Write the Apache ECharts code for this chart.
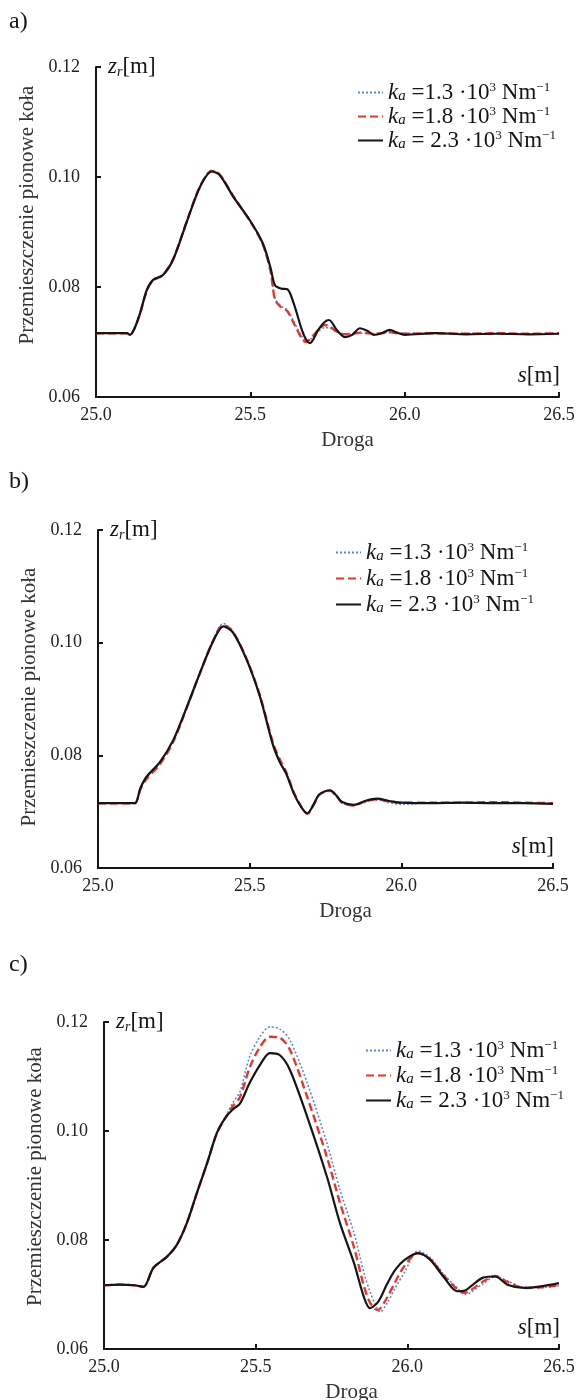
<!DOCTYPE html>
<html><head><meta charset="utf-8">
<script src="https://cdn.jsdelivr.net/npm/echarts@6/dist/echarts.min.js"></script>
<style>html,body{margin:0;padding:0;background:#fff}#c{width:577px;height:1400px}</style>
</head><body><div id="c"></div>
<script>
// ---------- data ----------
const seriesNames = ['kₐ =1.3·10³ Nm⁻¹', 'kₐ =1.8·10³ Nm⁻¹', 'kₐ = 2.3·10³ Nm⁻¹'];
const yTicks = [0.06, 0.08, 0.10, 0.12];
const xTicks = [25.0, 25.5, 26.0, 26.5];

// panel a
const xA = [25.0,25.05,25.1,25.11,25.125,25.143,25.165,25.185,25.217,25.25,25.295,25.337,25.375,25.40,25.445,25.5,25.54,25.565,25.58,25.60,25.62,25.64,25.667,25.68,25.693,25.72,25.74,25.755,25.78,25.807,25.83,25.855,25.88,25.90,25.925,25.952,25.975,26.0,26.1,26.2,26.3,26.4,26.5];
const aBlue = [0.0716,0.0716,0.0716,0.0713,0.0725,0.0753,0.0795,0.0813,0.0822,0.0851,0.0921,0.0983,0.1012,0.1005,0.0965,0.0919,0.0878,0.0832,0.0779,0.0765,0.0758,0.0738,0.0710,0.0702,0.0704,0.0719,0.0726,0.0726,0.0718,0.0714,0.0715,0.0716,0.0716,0.0715,0.0716,0.0717,0.0716,0.0716,0.0716,0.0716,0.0716,0.0715,0.0716];
const aRed = [0.0716,0.0716,0.0716,0.0713,0.0725,0.0752,0.0794,0.0812,0.0822,0.0851,0.0921,0.0983,0.1011,0.1005,0.0965,0.0919,0.0878,0.0830,0.0777,0.0763,0.0756,0.0735,0.0706,0.0700,0.0705,0.0722,0.0731,0.0729,0.0719,0.0714,0.0715,0.0717,0.0716,0.0715,0.0716,0.0718,0.0716,0.0715,0.0716,0.0715,0.0716,0.0715,0.0716];
const aBlack = [0.0716,0.0716,0.0716,0.0713,0.0725,0.0753,0.0795,0.0813,0.0822,0.0850,0.0920,0.0982,0.1010,0.1004,0.0964,0.0920,0.0880,0.0836,0.0803,0.0797,0.0796,0.0771,0.0722,0.0705,0.0698,0.0722,0.0736,0.0740,0.0722,0.0709,0.0713,0.0725,0.0720,0.0713,0.0716,0.0722,0.0717,0.0713,0.0716,0.0714,0.0715,0.0714,0.0715];

// panel b
const xB = [25.0,25.05,25.1,25.122,25.14,25.16,25.204,25.248,25.293,25.336,25.38,25.413,25.445,25.49,25.534,25.577,25.60,25.62,25.645,25.67,25.69,25.71,25.73,25.765,25.785,25.805,25.844,25.88,25.92,25.96,26.0,26.1,26.2,26.3,26.4,26.5];
const bBlue = [0.0715,0.0715,0.0715,0.0715,0.0743,0.0761,0.0787,0.0826,0.0886,0.0947,0.1006,0.1034,0.1020,0.0971,0.0905,0.0820,0.0789,0.0769,0.0734,0.0708,0.0697,0.0711,0.0730,0.0737,0.0728,0.0715,0.0712,0.0717,0.0721,0.0716,0.0713,0.0716,0.0715,0.0716,0.0715,0.0715];
const bRed = [0.0715,0.0715,0.0715,0.0715,0.0740,0.0758,0.0784,0.0824,0.0885,0.0946,0.1004,0.1031,0.1019,0.0971,0.0906,0.0822,0.0792,0.0771,0.0735,0.0709,0.0696,0.0711,0.0730,0.0737,0.0729,0.0716,0.0711,0.0718,0.0722,0.0718,0.0716,0.0716,0.0716,0.0717,0.0716,0.0715];
const bBlack = [0.0715,0.0715,0.0715,0.0715,0.0742,0.0762,0.0788,0.0827,0.0886,0.0946,0.1003,0.1029,0.1018,0.0970,0.0904,0.0818,0.0787,0.0768,0.0733,0.0708,0.0697,0.0712,0.0731,0.0738,0.0729,0.0717,0.0712,0.0719,0.0723,0.0719,0.0716,0.0715,0.0716,0.0715,0.0715,0.0714];

// panel c
const xC = [25.0,25.05,25.1,25.13,25.163,25.207,25.24,25.273,25.306,25.34,25.372,25.40,25.425,25.448,25.48,25.514,25.547,25.58,25.613,25.67,25.735,25.778,25.824,25.857,25.877,25.90,25.91,25.934,25.96,25.99,26.035,26.075,26.12,26.164,26.19,26.207,26.25,26.29,26.33,26.385,26.44,26.5];
const cBlue = [0.0717,0.0718,0.0717,0.0714,0.0749,0.0769,0.0791,0.0831,0.0886,0.0942,0.0997,0.1026,0.1052,0.1072,0.1136,0.1173,0.1191,0.1187,0.1167,0.1088,0.0978,0.0892,0.0813,0.0740,0.0705,0.0675,0.0668,0.0685,0.0712,0.0740,0.0780,0.0768,0.0737,0.0712,0.0700,0.0703,0.0720,0.0733,0.0725,0.0713,0.0713,0.0716];
const cRed = [0.0717,0.0718,0.0717,0.0714,0.0749,0.0769,0.0791,0.0831,0.0886,0.0941,0.0996,0.1024,0.1046,0.1062,0.1116,0.1154,0.1173,0.1171,0.1149,0.1062,0.0952,0.0868,0.0787,0.0715,0.0685,0.0672,0.0674,0.0695,0.0723,0.0752,0.0776,0.0765,0.0735,0.0710,0.0703,0.0707,0.0724,0.0734,0.0723,0.0712,0.0713,0.0717];
const cBlack = [0.0717,0.0718,0.0717,0.0714,0.0749,0.0769,0.0791,0.0831,0.0886,0.0941,0.0996,0.1024,0.1040,0.1050,0.1088,0.1121,0.1143,0.1139,0.1112,0.1026,0.0916,0.0831,0.0758,0.0695,0.0675,0.0684,0.0692,0.0720,0.0745,0.0763,0.0776,0.0764,0.0732,0.0706,0.0707,0.0714,0.0731,0.0733,0.0718,0.0712,0.0715,0.0721];

const panelLabels = ['a)', 'b)', 'c)'];
const yAxisTitle = 'Przemieszczenie pionowe koła';
const xAxisTitle = 'Droga';

// ---------- layout / style ----------
const F = 'Liberation Serif';
const INK = '#151515';
const grids = [
  {left: 96, top: 67, width: 463, height: 330},
  {left: 98, top: 530, width: 455, height: 338},
  {left: 104, top: 1022, width: 455, height: 327}
];
const legendPos = [
  {left: 352, top: 76, gap: 1},
  {left: 330, top: 536, gap: 3},
  {left: 360, top: 1034, gap: 2}
];
const yNamePad = [[0,0,0,34],[0,0,0,4],[0,0,0,18]];
const labelY = [22, 482, 965];

const panels = [
  {x: xA, ys: [aBlue, aRed, aBlack]},
  {x: xB, ys: [bBlue, bRed, bBlack]},
  {x: xC, ys: [cBlue, cRed, cBlack]}
];
const lineStyles = [
  {color: '#5b8ad8', width: 1.6, type: [2, 2]},
  {color: '#e8372a', width: 2.4, type: [8, 4]},
  {color: INK, width: 2.2, type: 'solid'}
];

const richLegend = {
  k: {fontFamily: F, fontStyle: 'italic', fontSize: 23, lineHeight: 22, color: INK},
  sub: {fontFamily: F, fontStyle: 'italic', fontSize: 15, lineHeight: 8, verticalAlign: 'bottom', color: INK},
  t: {fontFamily: F, fontSize: 23, lineHeight: 22, color: INK},
  sup: {fontFamily: F, fontSize: 13, lineHeight: 16, verticalAlign: 'top', color: INK}
};
const legendText = {};
legendText[seriesNames[0]] = '{k|k}{sub|a}{t| =1.3 ·10}{sup|3}{t| Nm}{sup|−1}';
legendText[seriesNames[1]] = '{k|k}{sub|a}{t| =1.8 ·10}{sup|3}{t| Nm}{sup|−1}';
legendText[seriesNames[2]] = '{k|k}{sub|a}{t| = 2.3 ·10}{sup|3}{t| Nm}{sup|−1}';

const richUnit = {
  i: {fontFamily: F, fontStyle: 'italic', fontSize: 23, lineHeight: 24, fill: INK, color: INK},
  sub: {fontFamily: F, fontStyle: 'italic', fontSize: 14, lineHeight: 8, verticalAlign: 'bottom', fill: INK, color: INK},
  t: {fontFamily: F, fontSize: 23, lineHeight: 24, fill: INK, color: INK}
};

const xAxes = [], yAxes = [], series = [], legends = [], graphics = [];
grids.forEach((g, i) => {
  xAxes.push({
    type: 'value', gridIndex: i, min: xTicks[0], max: xTicks[xTicks.length - 1], interval: 0.5,
    axisLine: {show: true, onZero: false, lineStyle: {color: INK, width: 2}},
    axisTick: {show: true, inside: true, length: 5, lineStyle: {color: INK, width: 2}},
    axisLabel: {color: '#222', fontFamily: F, fontSize: 18, margin: 9, formatter: v => v.toFixed(1)},
    splitLine: {show: false},
    name: xAxisTitle, nameLocation: 'middle', nameGap: 33,
    nameTextStyle: {color: '#333', fontFamily: F, fontSize: 21, padding: [0, 0, 0, 40]}
  });
  yAxes.push({
    type: 'value', gridIndex: i, min: yTicks[0], max: yTicks[yTicks.length - 1], interval: 0.02,
    axisLine: {show: true, onZero: false, lineStyle: {color: INK, width: 2}},
    axisTick: {show: true, inside: true, length: 5, lineStyle: {color: INK, width: 2}},
    axisLabel: {color: '#222', fontFamily: F, fontSize: 18, margin: 16, formatter: v => v.toFixed(2)},
    splitLine: {show: false},
    name: yAxisTitle, nameLocation: 'middle', nameRotate: 90, nameGap: 57,
    nameTextStyle: {color: '#333', fontFamily: F, fontSize: 21, padding: yNamePad[i]}
  });
  panels[i].ys.forEach((ys, k) => {
    series.push({
      type: 'line', name: seriesNames[k], xAxisIndex: i, yAxisIndex: i,
      data: panels[i].x.map((x, j) => [x, ys[j]]),
      showSymbol: false, symbol: 'none', smooth: 0.3,
      lineStyle: lineStyles[k], itemStyle: {color: lineStyles[k].color},
      z: 2 + k, animation: false, silent: true
    });
  });
  legends.push({
    data: seriesNames, orient: 'vertical', left: legendPos[i].left, top: legendPos[i].top,
    itemGap: legendPos[i].gap, itemWidth: 25, itemHeight: 12, selectedMode: false,
    itemStyle: {opacity: 0},
    formatter: n => legendText[n],
    textStyle: {fontFamily: F, color: INK, rich: richLegend}
  });
  graphics.push({
    type: 'text', style: {x: g.left + 12, y: g.top, text: '{i|z}{sub|r}{t|[m]}', rich: richUnit,
      verticalAlign: 'middle', align: 'left'}
  });
  graphics.push({
    type: 'text', style: {x: g.left + g.width + 1, y: g.top + g.height - 21, text: '{i|s}{t|[m]}', rich: richUnit,
      verticalAlign: 'middle', align: 'right'}
  });
  graphics.push({
    type: 'text', style: {x: 9, y: labelY[i], text: panelLabels[i], fill: INK,
      font: '24px "Liberation Serif"', verticalAlign: 'middle', align: 'left'}
  });
});

const chart = echarts.init(document.getElementById('c'), null, {renderer: 'canvas'});
chart.setOption({
  backgroundColor: '#fff',
  animation: false,
  grid: grids.map(g => Object.assign({containLabel: false, outerBoundsMode: 'none'}, g)),
  xAxis: xAxes, yAxis: yAxes, legend: legends, series: series, graphic: graphics
});
</script></body></html>
